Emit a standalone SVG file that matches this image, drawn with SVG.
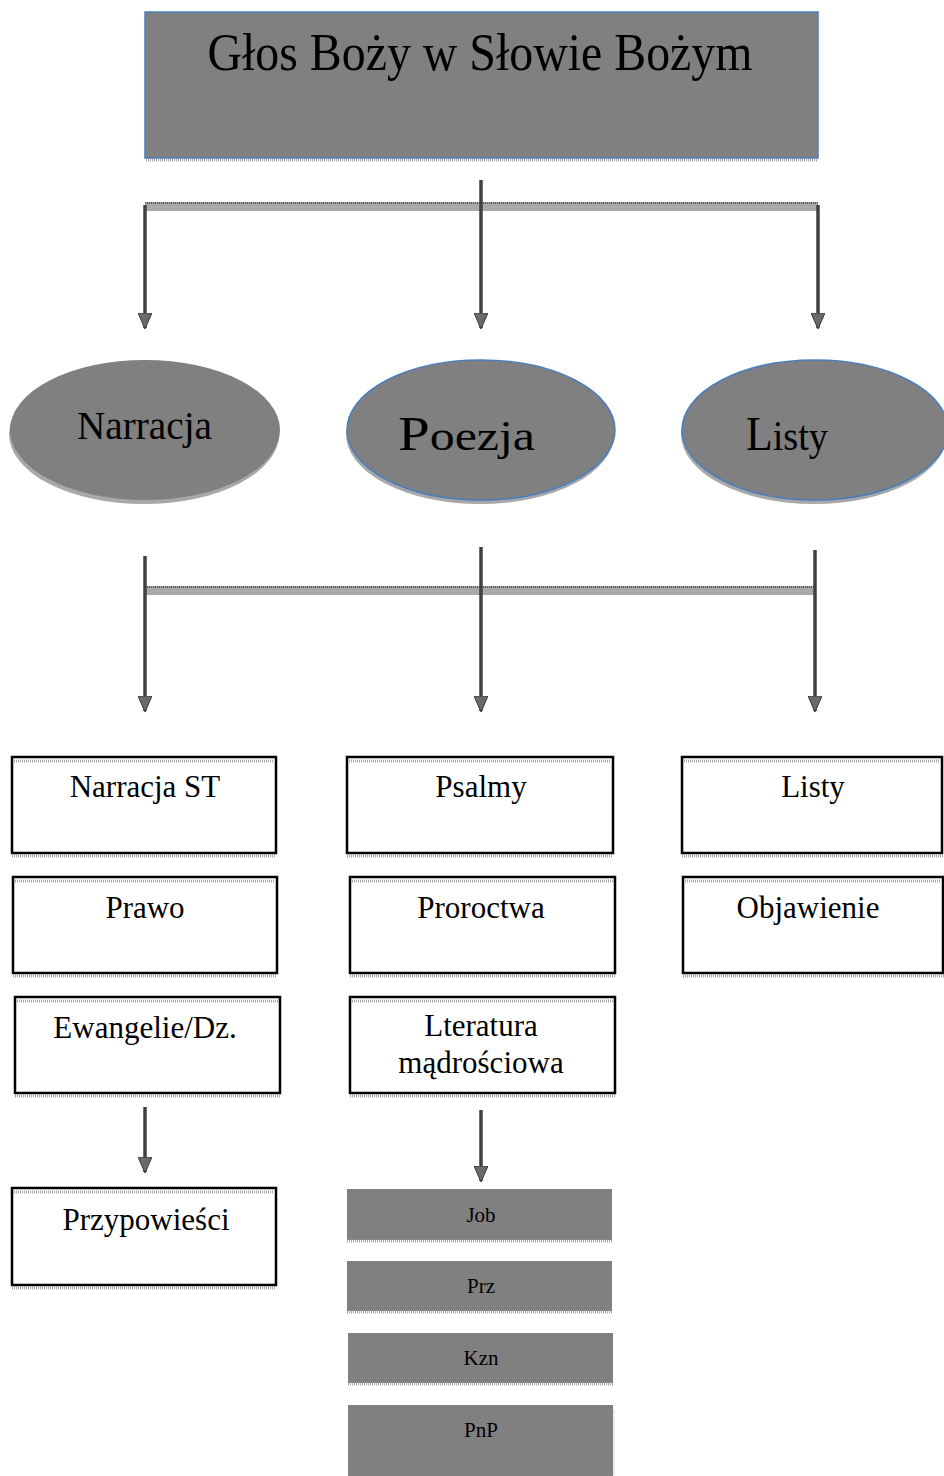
<svg xmlns="http://www.w3.org/2000/svg" width="944" height="1476" viewBox="0 0 944 1476">
<style>
.serif{font-family:"Liberation Serif","Times New Roman",serif;fill:#000}
.box{fill:#fff;stroke:#000;stroke-width:2.5}
.sh{stroke:#a8a8a8;stroke-width:3;stroke-dasharray:1 1;fill:none}
.gbox{fill:#808080}
.conn{stroke:#404040;stroke-width:3.5;fill:none}
.bar{fill:#a9a9a9}
.barTop{stroke:#5a5a5a;stroke-width:2;stroke-dasharray:1 1}
.bt{font-size:31px;text-anchor:middle}
.st{font-size:21px;text-anchor:middle}
</style>
<defs>
<marker id="ah" viewBox="0 0 16 14" refX="15" refY="7" markerWidth="16" markerHeight="14" markerUnits="userSpaceOnUse" orient="auto">
<path d="M0,0 L16,7 L0,14 Z" fill="#6a6a6a" stroke="#3a3a3a" stroke-width="1"/>
</marker>
</defs>
<rect width="944" height="1476" fill="#fff"/>

<g id="root">
<line x1="146" y1="160" x2="818" y2="160" class="sh"/>
<rect x="145" y="12" width="673" height="146" fill="#808080" stroke="#4a7ebb" stroke-width="1.5"/>
<text x="480" y="70" class="serif" font-size="52" text-anchor="middle" textLength="545" lengthAdjust="spacingAndGlyphs">Głos Boży w Słowie Bożym</text>
</g>

<g id="connectors">
<rect x="145" y="202" width="673" height="9" class="bar"/>
<line x1="145" y1="203" x2="818" y2="203" class="barTop"/>
<line x1="481" y1="180" x2="481" y2="328" class="conn" marker-end="url(#ah)"/>
<line x1="145" y1="205" x2="145" y2="328" class="conn" marker-end="url(#ah)"/>
<line x1="818" y1="205" x2="818" y2="328" class="conn" marker-end="url(#ah)"/>

<rect x="145" y="586" width="670" height="9" class="bar"/>
<line x1="145" y1="587" x2="815" y2="587" class="barTop"/>
<line x1="145" y1="556" x2="145" y2="711" class="conn" marker-end="url(#ah)"/>
<line x1="481" y1="547" x2="481" y2="711" class="conn" marker-end="url(#ah)"/>
<line x1="815" y1="550" x2="815" y2="711" class="conn" marker-end="url(#ah)"/>

<line x1="145" y1="1107" x2="145" y2="1172" class="conn" marker-end="url(#ah)"/>
<line x1="481" y1="1110" x2="481" y2="1181" class="conn" marker-end="url(#ah)"/>
</g>

<g id="narracja">
<ellipse cx="144" cy="434" rx="135" ry="70" fill="#a8a8a8"/>
<ellipse cx="145" cy="430" rx="135" ry="70" fill="#808080"/>
<text x="77" y="439" class="serif" font-size="40" textLength="135" lengthAdjust="spacingAndGlyphs">Narracja</text>
</g>

<g id="poezja">
<ellipse cx="480" cy="434" rx="134" ry="70" fill="#a8a8a8"/>
<ellipse cx="481" cy="430" rx="134" ry="70" fill="#808080" stroke="#4a7ebb" stroke-width="1.5"/>
<text x="398" y="450" class="serif" textLength="137" lengthAdjust="spacingAndGlyphs"><tspan font-size="48">P</tspan><tspan font-size="42">oezja</tspan></text>
</g>

<g id="listy">
<ellipse cx="814" cy="434" rx="133" ry="70" fill="#a8a8a8"/>
<ellipse cx="815" cy="430" rx="133" ry="70" fill="#808080" stroke="#4a7ebb" stroke-width="1.5"/>
<text x="746" y="450" class="serif" textLength="82" lengthAdjust="spacingAndGlyphs"><tspan font-size="48">L</tspan><tspan font-size="42">isty</tspan></text>
</g>

<g id="narracja-st">
<rect x="12" y="757" width="264" height="96" class="box"/>
<line x1="14" y1="761" x2="274" y2="761" class="sh"/>
<line x1="12" y1="856" x2="276" y2="856" class="sh"/>
<text x="145" y="797" class="serif bt">Narracja ST</text>
</g>
<g id="prawo">
<rect x="13" y="877" width="264" height="96" class="box"/>
<line x1="15" y1="881" x2="275" y2="881" class="sh"/>
<line x1="13" y1="976" x2="277" y2="976" class="sh"/>
<text x="145" y="918" class="serif bt">Prawo</text>
</g>
<g id="ewangelie">
<rect x="15" y="997" width="265" height="96" class="box"/>
<line x1="17" y1="1001" x2="278" y2="1001" class="sh"/>
<line x1="15" y1="1096" x2="280" y2="1096" class="sh"/>
<text x="145" y="1038" class="serif bt">Ewangelie/Dz.</text>
</g>
<g id="przypowiesci">
<rect x="12" y="1188" width="264" height="97" class="box"/>
<line x1="14" y1="1192" x2="274" y2="1192" class="sh"/>
<line x1="12" y1="1288" x2="276" y2="1288" class="sh"/>
<text x="146" y="1230" class="serif bt">Przypowieści</text>
</g>

<g id="psalmy">
<rect x="347" y="757" width="266" height="96" class="box"/>
<line x1="349" y1="761" x2="611" y2="761" class="sh"/>
<line x1="347" y1="856" x2="613" y2="856" class="sh"/>
<text x="481" y="797" class="serif bt">Psalmy</text>
</g>
<g id="proroctwa">
<rect x="350" y="877" width="265" height="96" class="box"/>
<line x1="352" y1="881" x2="613" y2="881" class="sh"/>
<line x1="350" y1="976" x2="615" y2="976" class="sh"/>
<text x="481" y="918" class="serif bt">Proroctwa</text>
</g>
<g id="literatura">
<rect x="350" y="997" width="265" height="96" class="box"/>
<line x1="352" y1="1001" x2="613" y2="1001" class="sh"/>
<line x1="350" y1="1096" x2="615" y2="1096" class="sh"/>
<text x="481" y="1036" class="serif bt">Lteratura</text>
<text x="481" y="1073" class="serif bt">mądrościowa</text>
</g>

<g id="job">
<rect x="347" y="1189" width="265" height="51" class="gbox"/>
<line x1="347" y1="1241" x2="612" y2="1241" class="sh"/>
<text x="481" y="1222" class="serif st">Job</text>
</g>
<g id="prz">
<rect x="347" y="1261" width="265" height="50" class="gbox"/>
<line x1="347" y1="1312" x2="612" y2="1312" class="sh"/>
<text x="481" y="1293" class="serif st">Prz</text>
</g>
<g id="kzn">
<rect x="348" y="1333" width="265" height="50" class="gbox"/>
<line x1="348" y1="1384" x2="613" y2="1384" class="sh"/>
<text x="481" y="1365" class="serif st">Kzn</text>
</g>
<g id="pnp">
<rect x="348" y="1405" width="265" height="71" class="gbox"/>
<line x1="614" y1="1410" x2="614" y2="1476" stroke="#bbb" stroke-width="1" stroke-dasharray="1 1"/>
<text x="481" y="1437" class="serif st">PnP</text>
</g>

<g id="listy-box">
<rect x="682" y="757" width="260" height="96" class="box"/>
<line x1="684" y1="761" x2="940" y2="761" class="sh"/>
<line x1="682" y1="856" x2="944" y2="856" class="sh"/>
<text x="813" y="797" class="serif bt">Listy</text>
</g>
<g id="objawienie">
<rect x="683" y="877" width="260" height="96" class="box"/>
<line x1="685" y1="881" x2="941" y2="881" class="sh"/>
<line x1="683" y1="976" x2="944" y2="976" class="sh"/>
<text x="808" y="918" class="serif bt">Objawienie</text>
</g>
</svg>
